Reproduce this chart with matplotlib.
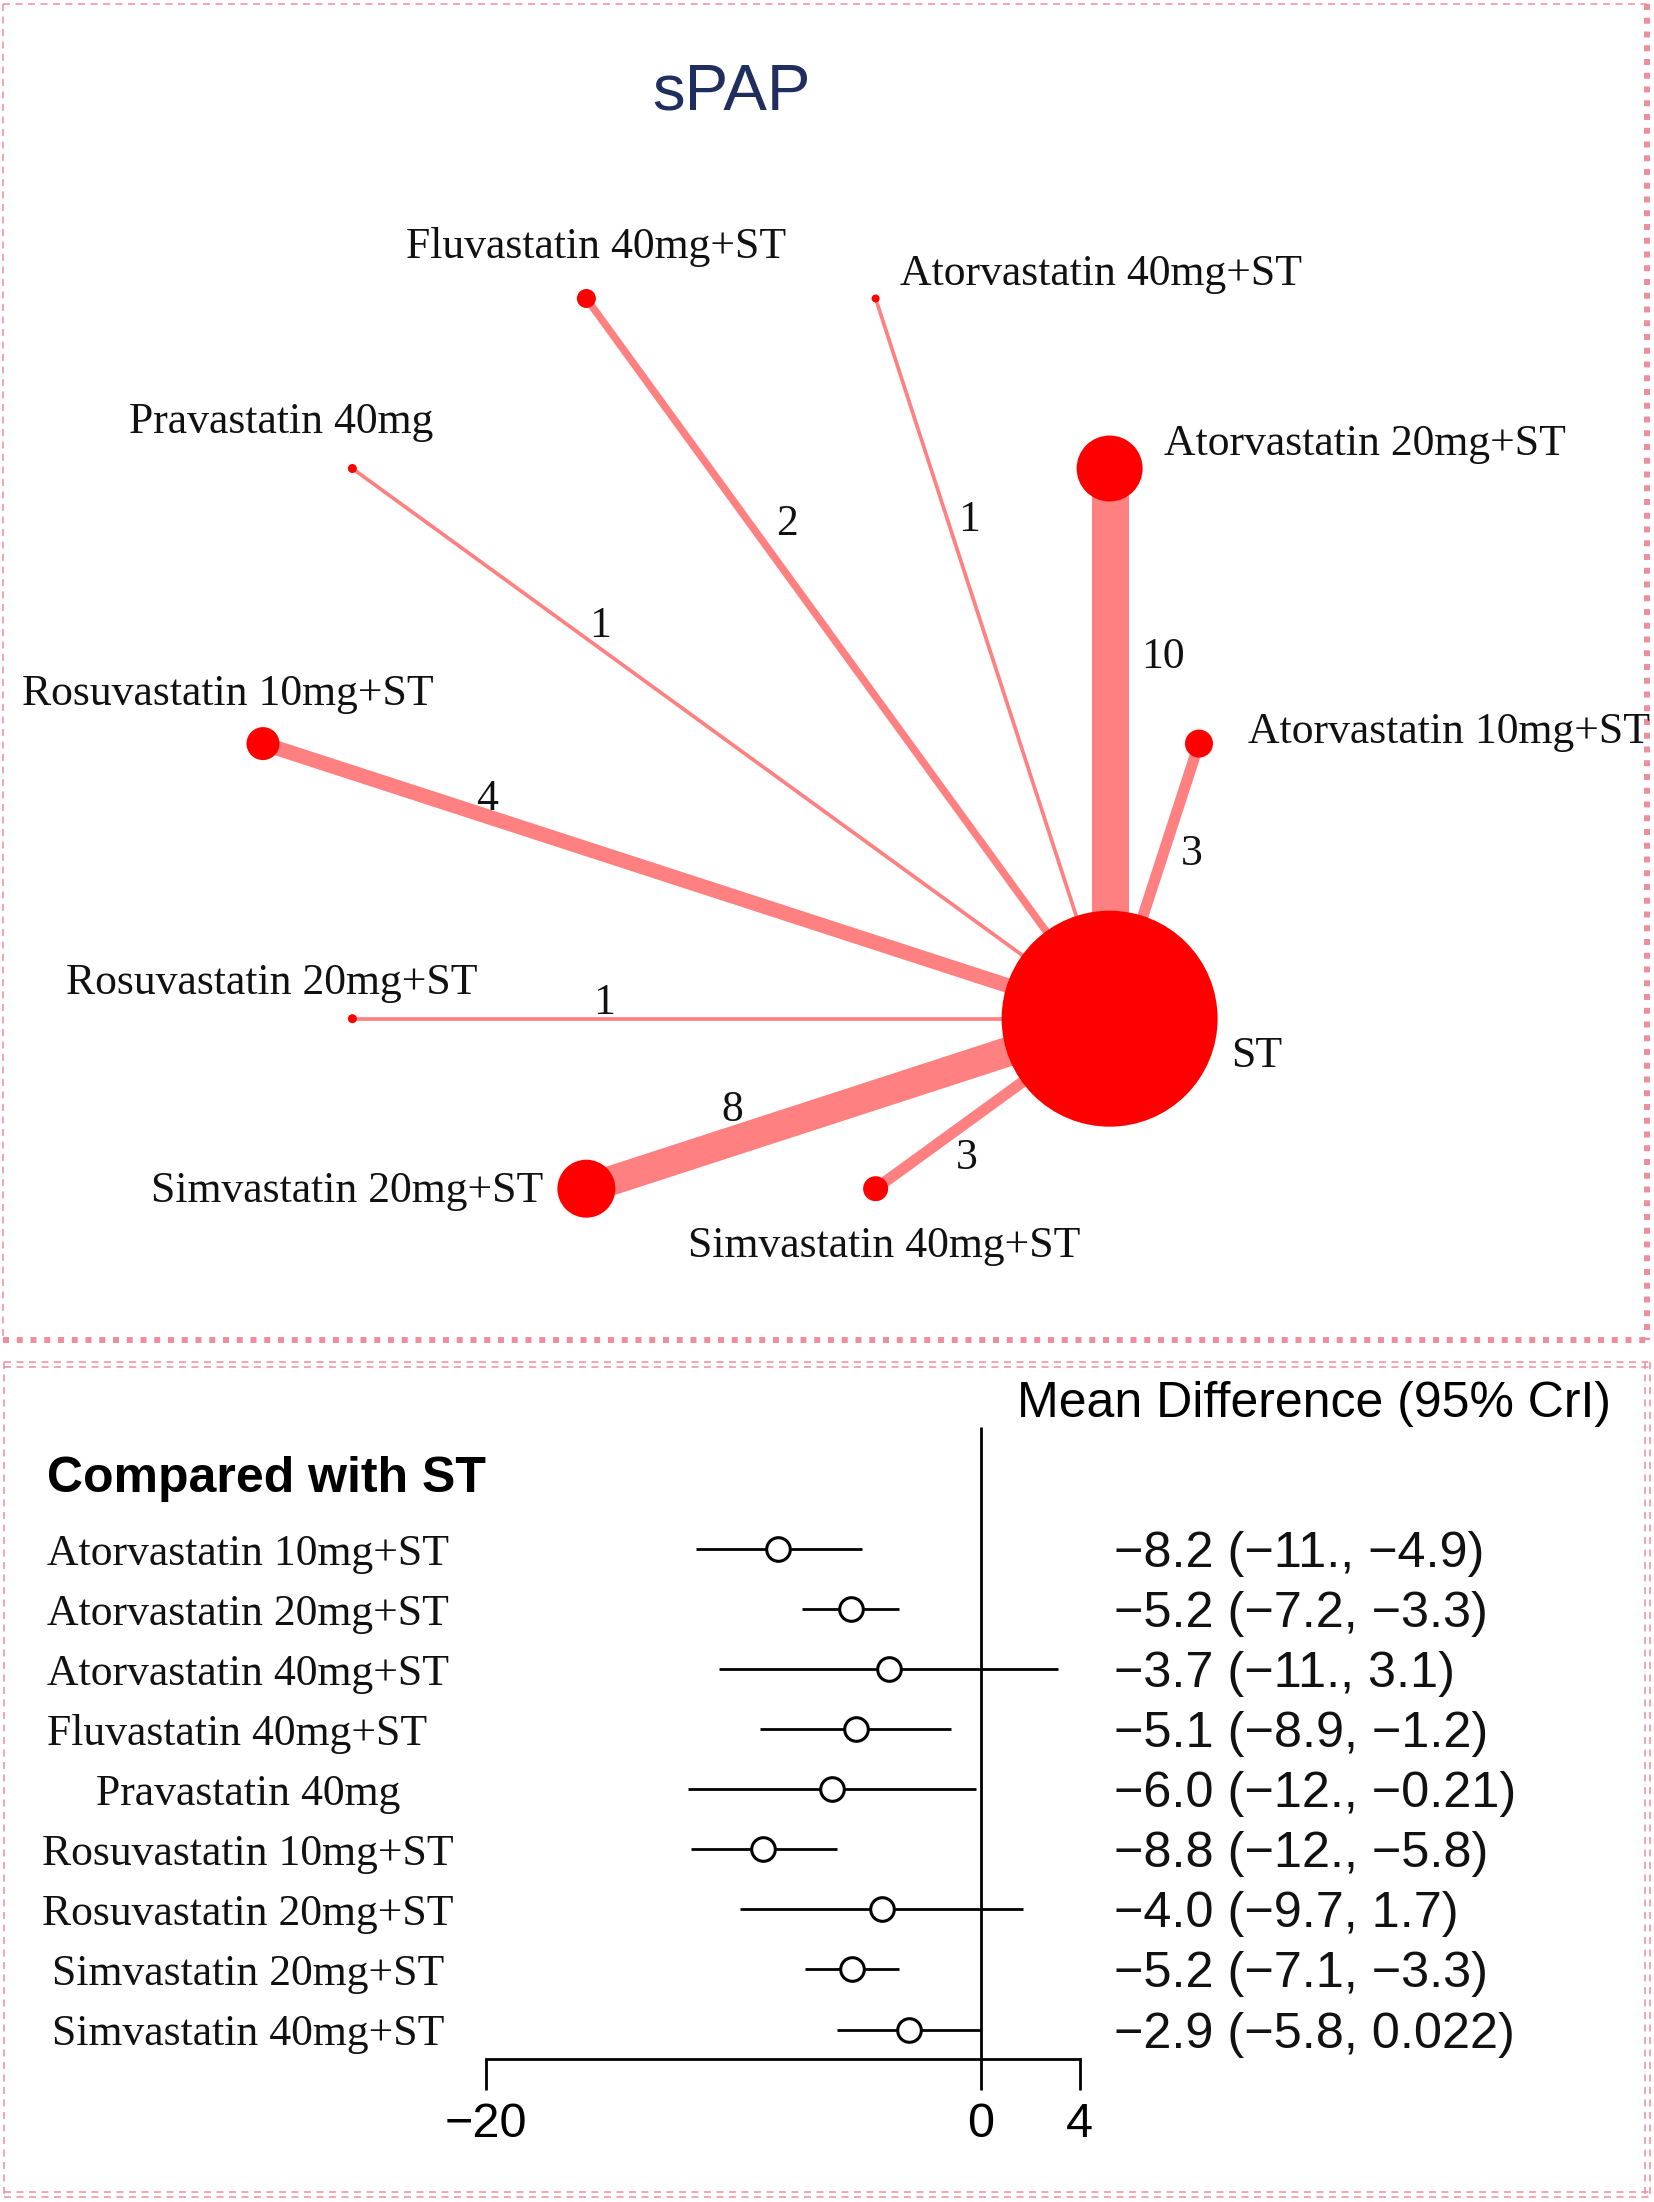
import matplotlib

matplotlib.use("Agg")
import matplotlib.pyplot as plt
import numpy as np
from matplotlib.patches import Circle

plt.rcParams["lines.scale_dashes"] = False

W, H, DPI = 1654, 2202, 100
SERIF = "Liberation Serif"
SANS = "Liberation Sans"
PINK = "#EE8E9C"

# network: treatments in circular order, ST (standard therapy) last
treatments = [
    "Atorvastatin 10mg+ST", "Atorvastatin 20mg+ST", "Atorvastatin 40mg+ST",
    "Fluvastatin 40mg+ST", "Pravastatin 40mg", "Rosuvastatin 10mg+ST",
    "Rosuvastatin 20mg+ST", "Simvastatin 20mg+ST", "Simvastatin 40mg+ST", "ST",
]
node_size = [14, 33, 4, 9.5, 4.5, 16.5, 4.5, 29, 12.5, 108]
n_studies = [3, 10, 1, 2, 1, 4, 1, 8, 3]                        # each treatment vs ST

# forest plot: mean difference vs ST with 95% CrI
forest_labels = treatments[:9]
md = [-8.2, -5.25, -3.7, -5.05, -6.0, -8.8, -4.0, -5.2, -2.9]
ci_low = [-11.5, -7.2, -10.55, -8.9, -11.8, -11.7, -9.7, -7.1, -5.8]
ci_high = [-4.8, -3.3, 3.15, -1.2, -0.2, -5.8, 1.7, -3.3, 0.03]
md_text = [
    "\u22128.2 (\u221211., \u22124.9)", "\u22125.2 (\u22127.2, \u22123.3)",
    "\u22123.7 (\u221211., 3.1)", "\u22125.1 (\u22128.9, \u22121.2)",
    "\u22126.0 (\u221212., \u22120.21)", "\u22128.8 (\u221212., \u22125.8)",
    "\u22124.0 (\u22129.7, 1.7)", "\u22125.2 (\u22127.1, \u22123.3)",
    "\u22122.9 (\u22125.8, 0.022)",
]
x_ticks = [-20, 0, 4]

# label placement for the network (pixel offsets from node centre, screen y down)
label_place = [
    ("left", 49, -12), ("left", 54, -25), ("left", 24, -25), ("center", 10, -52),
    ("center", -71, -47), ("center", -35, -50), ("center", -81, -36),
    ("right", -43, 2), ("center", 9, 57), ("left", 122, 37),
]
# edge labels: fraction along edge from the outer node, signed side offset (px)
edge_label_t = [0.357, 0.335, 0.312, 0.334, 0.311, 0.257, 0.333, 0.299, 0.324]
edge_label_off = [26, 53, 21, 32, 21, 20, 19, 33, -26]
# centre x (px) of the row labels in the forest plot
row_label_x = [248, 248, 248, 237, 248, 248, 248, 248, 248]


def px_rect(x0, y0, x1, y1):
    return [x0 / W, 1 - y1 / H, (x1 - x0) / W, (y1 - y0) / H]


fig = plt.figure(figsize=(W / DPI, H / DPI), dpi=DPI)

# background layer in pixel coordinates: frames and text
bg = fig.add_axes([0, 0, 1, 1])
bg.set_xlim(0, W)
bg.set_ylim(H, 0)
bg.axis("off")

thin = dict(color=PINK, lw=1.1, dashes=(5, 4))
dots = dict(color=PINK, lw=4.3, dashes=(4.3, 5.6))
bg.plot([3, 1647], [4, 4], **thin)
bg.plot([3, 3], [4, 1340], **thin)
bg.plot([3, 1647], [1340, 1340], **dots)
bg.plot([1647, 1647], [4, 1340], **dots)
for y in (1362, 1367, 2192, 2197):
    bg.plot([4, 1650], [y, y], **thin)
for x in (1645, 1650):
    bg.plot([x, x], [1362, 2197], **thin)
bg.plot([4, 4], [1362, 2197], **thin)

bg.text(731, 93, "sPAP", family=SANS, fontsize=47, color="#1F2E5C",
        ha="center", va="center")

# ---- network plot ----
R, CX, CY = 468.0, 731.0, 743.6
net = fig.add_axes(px_rect(0, 0, W, 1340))
net.set_xlim(-CX / R, (W - CX) / R)
net.set_ylim((CY - 1340) / R, CY / R)
net.axis("off")
net.patch.set_alpha(0)

angles = 2 * np.pi * np.arange(len(treatments)) / len(treatments)
pos = np.column_stack([np.cos(angles), np.sin(angles)])
hub = pos[-1]
digit_half = 0.338 * 31.5 * DPI / 72  # half digit height in px

for i, n in enumerate(n_studies):
    p = pos[i]
    width_px = 3.7 * n
    net.plot([p[0], hub[0]], [p[1], hub[1]], color="#FF8080",
             lw=width_px * 72 / DPI, solid_capstyle="butt", zorder=1)
    d = (hub - p) / np.linalg.norm(hub - p)
    perp = np.array([-d[1], d[0]])
    lp = p + (hub - p) * edge_label_t[i] + perp * edge_label_off[i] / R
    net.text(lp[0], lp[1] - digit_half / R, str(n), family=SERIF, fontsize=31.5,
             color="#111111", ha="center", va="baseline", zorder=3)

for i, name in enumerate(treatments):
    net.add_patch(Circle(pos[i], node_size[i] / R, color="#FF0000", lw=0, zorder=2))
    ha, dx, dy = label_place[i]
    net.text(pos[i][0] + dx / R, pos[i][1] - dy / R, name, family=SERIF,
             fontsize=31.5, color="#111111", ha=ha, va="center", zorder=3)

# ---- forest plot ----
ROW0, ROWH, PPU, X0 = 1548.7, 60.1, 24.75, 980.5
fp = fig.add_axes(px_rect(0, 1340, W, H))
fp.set_xlim(-X0 / PPU, (W - X0) / PPU)
fp.set_ylim((H - ROW0) / ROWH, (1340 - ROW0) / ROWH)
fp.patch.set_alpha(0)
rows = np.arange(len(forest_labels))
axis_y = (2059.3 - ROW0) / ROWH

fp.hlines(rows, ci_low, ci_high, color="black", lw=2)
fp.plot(md, rows, "o", ms=17, mfc="white", mec="black", mew=2.2, zorder=3)
fp.vlines(0, (1427 - ROW0) / ROWH, axis_y, color="black", lw=2)

for s in ("top", "right", "left"):
    fp.spines[s].set_visible(False)
fp.spines["bottom"].set_position(("data", axis_y))
fp.spines["bottom"].set_bounds(x_ticks[0], x_ticks[-1])
fp.spines["bottom"].set_linewidth(2)
fp.set_yticks([])
fp.set_xticks(x_ticks)
fp.set_xticklabels([f"{t}".replace("-", "\u2212") for t in x_ticks])
fp.tick_params(axis="x", direction="out", length=22.3, width=2, pad=8.5,
               labelsize=35)
for lab in fp.get_xticklabels():
    lab.set_family(SANS)

for i, (name, txt) in enumerate(zip(forest_labels, md_text)):
    y = ROW0 + i * ROWH + 5
    bg.text(row_label_x[i], y, name, family=SERIF, fontsize=31.5, color="#111111",
            ha="center", va="center")
    bg.text(1114, y, txt, family=SANS, fontsize=36.3, color="#111111",
            ha="left", va="center")

bg.text(47, 1479, "Compared with ST", family=SANS, fontsize=36,
        fontweight="bold", ha="left", va="center")
bg.text(1017, 1404, "Mean Difference (95% CrI)", family=SANS, fontsize=36,
        ha="left", va="center")

fig.savefig("out.png", dpi=DPI)
